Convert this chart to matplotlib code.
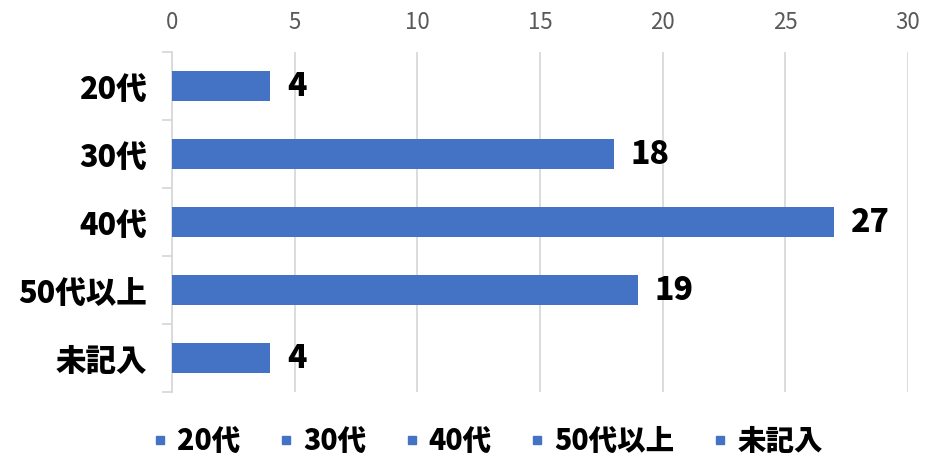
import matplotlib
matplotlib.use("Agg")
import matplotlib.pyplot as plt
from matplotlib.lines import Line2D
import numpy as np

plt.rcParams['font.family'] = ['Noto Sans CJK JP', 'DejaVu Sans']

categories = ["20代", "30代", "40代", "50代以上", "未記入"]
values = [4, 18, 27, 19, 4]
xticks = [0, 5, 10, 15, 20, 25, 30]

bar_color = "#4472C4"
grid_color = "#D9D9D9"

fig = plt.figure(figsize=(9.25, 4.62), dpi=100)
ax = fig.add_axes([0.186, 0.1515, 0.7956, 0.7359])

y = np.arange(len(categories))
ax.barh(y, values, height=0.44, color=bar_color, zorder=3)
ax.set_ylim(len(categories) - 0.5, -0.5)
ax.set_xlim(0, 30)

for yi, v in zip(y, values):
    ax.annotate(str(v), xy=(v, yi), xytext=(12, 0), textcoords="offset points",
                ha="left", va="center", fontsize=23, fontweight="heavy",
                color="black")

ax.xaxis.tick_top()
ax.set_xticks(xticks)
ax.set_xticklabels([str(t) for t in xticks], fontsize=16, color="#595959")
ax.tick_params(axis="x", length=0, pad=13)
ax.grid(axis="x", color=grid_color, linewidth=1.3, zorder=0)

ax.set_yticks(y)
ax.set_yticklabels(categories, fontsize=22, fontweight="heavy")
ax.tick_params(axis="y", which="major", length=0, pad=18)
ax.set_yticks(np.arange(-0.5, len(categories)), minor=True)
ax.tick_params(axis="y", which="minor", length=7, width=1.3, color=grid_color)

for s in ["top", "right", "bottom"]:
    ax.spines[s].set_visible(False)
ax.spines["left"].set_color(grid_color)
ax.spines["left"].set_linewidth(1.3)

handles = [Line2D([], [], marker="s", linestyle="none", markersize=6,
                  color=bar_color) for _ in categories]
fig.legend(handles, categories, loc="center", bbox_to_anchor=(0.522, 0.045),
           ncol=len(categories), frameon=False, handletextpad=0.0,
           handlelength=1.2, columnspacing=1.0,
           prop={"size": 20.5, "weight": "heavy"})

fig.savefig("out.png", dpi=100)
